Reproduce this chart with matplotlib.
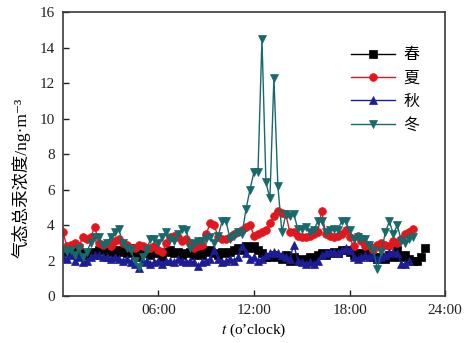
import numpy as np
import matplotlib
matplotlib.use("Agg")
import matplotlib.pyplot as plt

plt.rcParams['font.family'] = ['Liberation Serif', 'Noto Sans CJK SC', 'DejaVu Sans']
plt.rcParams['mathtext.fontset'] = 'stix'

# Measurement time step (hours) and series values (ng/m3)
step_h = 0.25

spring = [
    2.5, 2.6, 2.4, 2.7,  2.5, 2.4, 2.3, 2.5,  2.4, 2.6, 2.7, 2.5,
    2.6, 2.4, 2.6, 2.5,  2.4, 2.7, 2.3, 2.2,  2.4, 2.5, 2.3, 2.6,
    2.4, 2.2, 2.5, 2.6,  2.4, 2.5, 2.3, 2.4,  2.5, 2.3, 2.4, 2.3,
    2.5, 2.6, 2.4, 2.3,  2.5, 2.4, 2.5, 2.6,  2.7, 2.6, 2.8, 2.7,
    2.8, 2.6, 2.4, 2.2,  2.2, 2.3, 2.2, 2.1,  2.3, 2.0, 2.2, 2.0,
    2.1, 2.0, 2.2, 2.1,  2.3, 2.4, 2.3, 2.4,  2.5, 2.4, 2.6, 2.6,
    2.5, 2.3, 2.4, 2.3,  2.4, 2.3, 2.2, 2.1,  2.2, 2.1, 2.3, 2.2,
    2.6, 2.2, 2.3, 2.1,  1.95, 2.0, 2.2, 2.7,
]

summer = [
    3.6, 2.8, 2.9, 3.0,  2.8, 3.3, 3.2, 3.3,  3.9, 3.0, 2.9, 3.0,
    2.8, 3.1, 3.2, 3.0,  2.9, 2.7, 2.7, 2.9,  2.8, 2.7, 2.7, 2.8,
    2.6, 2.5, 3.0, 3.3,  3.4, 3.3, 3.1, 3.2,  3.0, 2.7, 2.8, 2.9,
    3.5, 4.1, 4.0, 3.3,  3.2, 3.2, 3.3, 3.5,  3.6, 3.7, 3.9, 4.0,
    3.4, 3.5, 3.6, 3.7,  4.1, 4.5, 4.8, 4.7,  4.6, 3.6, 3.6, 3.4,
    3.3, 3.3, 3.4, 3.5,  3.6, 4.8, 3.5, 3.4,  3.3, 3.4, 3.5, 3.7,
    3.3, 2.8, 3.4, 3.1,  2.8, 2.9, 2.6, 2.9,  3.0, 2.9, 2.8, 3.1,
    3.0, 3.2, 3.5, 3.6,  3.8,
]

autumn = [
    2.2, 2.1, 2.3, 2.0,  2.2, 1.9, 2.0, 2.2,  2.3, 2.3, 2.2, 2.2,
    2.1, 2.2, 2.1, 2.0,  2.1, 1.9, 1.8, 1.6,  1.9, 2.0, 1.8, 1.9,
    2.0, 1.8, 2.0, 2.0,  1.9, 2.1, 2.0, 1.9,  2.0, 1.9, 1.7, 1.9,
    2.0, 2.1, 2.6, 2.1,  1.9, 2.0, 2.1, 2.0,  2.2, 2.8, 2.4, 2.1,
    2.2, 2.0, 2.1, 2.3,  2.4, 2.5, 2.4, 2.3,  2.2, 2.1, 2.9, 2.0,
    1.9, 1.8, 1.9, 1.8,  2.0, 2.3, 2.4, 2.5,  2.5, 2.4, 2.6, 2.7,
    2.6, 2.2, 2.1, 2.2,  2.3, 2.2, 2.3, 2.1,  2.2, 2.3, 2.4, 2.5,
    2.4, 1.8, 1.8, 2.0,
]

winter = [
    2.6, 2.5, 2.6, 2.3,  2.7, 2.2, 2.5, 3.0,  3.3, 3.3, 2.9, 3.0,
    3.3, 3.6, 3.8, 3.0,  2.7, 2.6, 2.0, 1.65, 2.2, 2.6, 3.2, 3.2,
    3.0, 3.3, 3.6, 3.2,  3.1, 3.5, 3.8, 3.7,  2.7, 3.0, 3.1, 3.1,
    3.2, 3.3, 3.0, 3.4,  4.2, 4.2, 3.2, 3.4,  3.6, 3.5, 4.9, 6.0,
    7.0, 7.0, 14.5, 6.4, 5.5, 12.3, 6.2, 3.6, 4.6, 4.5, 4.6, 3.8,
    3.8, 3.9, 3.6, 3.7,  4.2, 4.2, 3.6, 3.7,  3.8, 3.7, 4.2, 4.2,
    3.7, 3.2, 3.3, 3.2,  3.2, 2.9, 2.6, 1.5,  2.5, 3.6, 4.2, 3.5,
    4.0, 3.1, 3.0, 3.2,  3.3,
]

labels = ['春', '夏', '秋', '冬']
colors = ['#000000', '#e3161d', '#1c1c96', '#17696a']
markers = ['s', 'o', '^', 'v']

xticks = [6, 12, 18, 24]
xticklabels = ['06:00', '12:00', '18:00', '24:00']
yticks = list(range(0, 17, 2))

fig = plt.figure(figsize=(4.73, 3.43), dpi=100)
ax = fig.add_axes([0.133, 0.137, 0.808, 0.828])

for vals, lab, col, mk in zip([spring, summer, autumn, winter], labels, colors, markers):
    t = np.arange(len(vals)) * step_h
    ax.plot(t, vals, color=col, marker=mk, markersize=5.6, linewidth=1.0,
            markeredgewidth=0.5, label=lab)

ax.set_xlim(0, 24)
ax.set_ylim(0, 16)
ax.set_xticks(xticks)
ax.set_xticklabels(xticklabels)
ax.set_yticks(yticks)
ax.tick_params(direction='in', length=4, width=1.0, labelsize=11, colors='#222222',
               pad=6)
for sp in ax.spines.values():
    sp.set_color('#3a3a3a')
    sp.set_linewidth(1.2)

ax.set_xlabel('$t$ (o’clock)', fontsize=11, labelpad=3)
ax.set_ylabel('气态总汞浓度/ng·m⁻³', fontsize=12.5)
ax.yaxis.set_label_coords(-0.084, 0.415)

leg = ax.legend(loc='upper right', bbox_to_anchor=(0.97, 0.93), frameon=False,
                handlelength=2.8, handletextpad=0.5, labelspacing=0.4,
                prop={'family': ['Noto Sans CJK SC'], 'size': 11.5})

fig.savefig('out.png', dpi=100)
